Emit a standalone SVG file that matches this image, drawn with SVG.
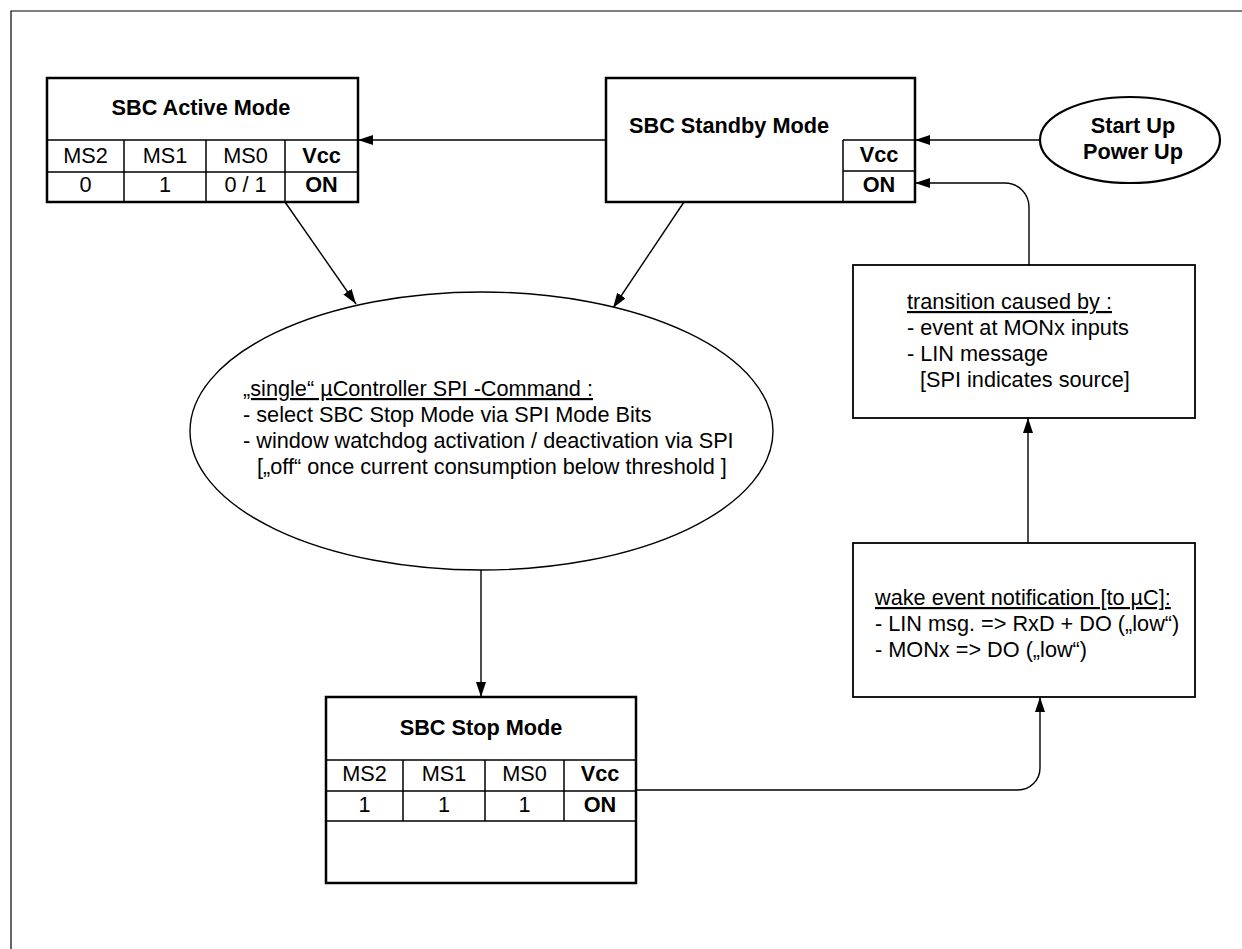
<svg xmlns="http://www.w3.org/2000/svg" width="1242" height="949" viewBox="0 0 1242 949">
<style>
text{font-family:"Liberation Sans",Arial,sans-serif;font-size:21.7px;fill:#000}
.b{font-weight:bold}
.m{text-anchor:middle}
.u{text-decoration:underline}
.box{fill:#fff;stroke:#000;stroke-width:2.5}
.tbox{fill:#fff;stroke:#000;stroke-width:1.8}
.grid{fill:none;stroke:#000;stroke-width:1.5}
.con{fill:none;stroke:#000;stroke-width:1.4}
</style>
<defs>
<marker id="ah" markerWidth="15" markerHeight="10" refX="15" refY="5" orient="auto" markerUnits="userSpaceOnUse">
<path d="M0,0 L15,5 L0,10 Z" fill="#000"/>
</marker>
</defs>
<rect width="1242" height="949" fill="#fff"/>
<path d="M11,949 V11 H1242" fill="none" stroke="#000" stroke-width="1.2"/>

<g id="connectors">
<line class="con" x1="606" y1="140" x2="358" y2="140" marker-end="url(#ah)"/>
<line class="con" x1="1040" y1="140" x2="915" y2="140" marker-end="url(#ah)"/>
<path class="con" d="M1029,265 V207 A24,24 0 0 0 1005,183 H915" marker-end="url(#ah)"/>
<line class="con" x1="285" y1="202" x2="356" y2="304" marker-end="url(#ah)"/>
<line class="con" x1="684" y1="202" x2="613" y2="308" marker-end="url(#ah)"/>
<line class="con" x1="481" y1="570" x2="481" y2="697" marker-end="url(#ah)"/>
<path class="con" d="M636,790 H1018 A22,22 0 0 0 1040,768 V697" marker-end="url(#ah)"/>
<line class="con" x1="1028" y1="543" x2="1028" y2="418" marker-end="url(#ah)"/>
</g>

<g id="active">
<rect class="box" x="47" y="78" width="311" height="124"/>
<path class="grid" d="M47,140 H358 M47,172 H358 M124,140 V202 M206,140 V202 M285,140 V202"/>
<text class="b m" x="201" y="115">SBC Active Mode</text>
<text class="m" x="85.5" y="163">MS2</text>
<text class="m" x="165" y="163">MS1</text>
<text class="m" x="245.5" y="163">MS0</text>
<text class="b m" x="321.5" y="163">Vcc</text>
<text class="m" x="85.5" y="192">0</text>
<text class="m" x="165" y="192">1</text>
<text class="m" x="245.5" y="192">0 / 1</text>
<text class="b m" x="321.5" y="192">ON</text>
</g>

<g id="standby">
<rect class="box" x="606" y="78" width="309" height="124"/>
<path class="grid" d="M843,140 H915 M843,171 H915 M843,140 V202"/>
<text class="b" x="629" y="133">SBC Standby Mode</text>
<text class="b m" x="879" y="162">Vcc</text>
<text class="b m" x="879" y="192">ON</text>
</g>

<g id="startup">
<ellipse cx="1130" cy="140" rx="90" ry="43" fill="#fff" stroke="#000" stroke-width="2.2"/>
<text class="b m" x="1133" y="133">Start Up</text>
<text class="b m" x="1133" y="159">Power Up</text>
</g>

<g id="command">
<ellipse cx="481.5" cy="431" rx="291.5" ry="139" fill="#fff" stroke="#000" stroke-width="1.4"/>
<text class="u" x="243" y="396">„single“ µController SPI -Command :</text>
<text x="243" y="422">- select SBC Stop Mode via SPI Mode Bits</text>
<text x="243" y="448">- window watchdog activation / deactivation via SPI</text>
<text x="257" y="474">[„off“ once current consumption below threshold ]</text>
</g>

<g id="stop">
<rect class="box" x="326" y="697" width="310" height="186"/>
<path class="grid" d="M326,760 H636 M326,791 H636 M326,821 H636 M403,760 V821 M485,760 V821 M564,760 V821"/>
<text class="b m" x="481" y="735">SBC Stop Mode</text>
<text class="m" x="364.5" y="781">MS2</text>
<text class="m" x="444" y="781">MS1</text>
<text class="m" x="524.5" y="781">MS0</text>
<text class="b m" x="600" y="781">Vcc</text>
<text class="m" x="364.5" y="812">1</text>
<text class="m" x="444" y="812">1</text>
<text class="m" x="524.5" y="812">1</text>
<text class="b m" x="600" y="812">ON</text>
</g>

<g id="transition">
<rect class="tbox" x="853" y="265" width="342" height="153"/>
<text class="u" x="907" y="309">transition caused by :</text>
<text x="907" y="335">- event at MONx inputs</text>
<text x="907" y="361">- LIN message</text>
<text x="920" y="387">[SPI indicates source]</text>
</g>

<g id="wake">
<rect class="tbox" x="853" y="543" width="342" height="154"/>
<text class="u" x="875" y="605">wake event notification [to µC]:</text>
<text x="875" y="631">- LIN msg. =&gt; RxD + DO („low“)</text>
<text x="875" y="657">- MONx =&gt; DO („low“)</text>
</g>
</svg>
